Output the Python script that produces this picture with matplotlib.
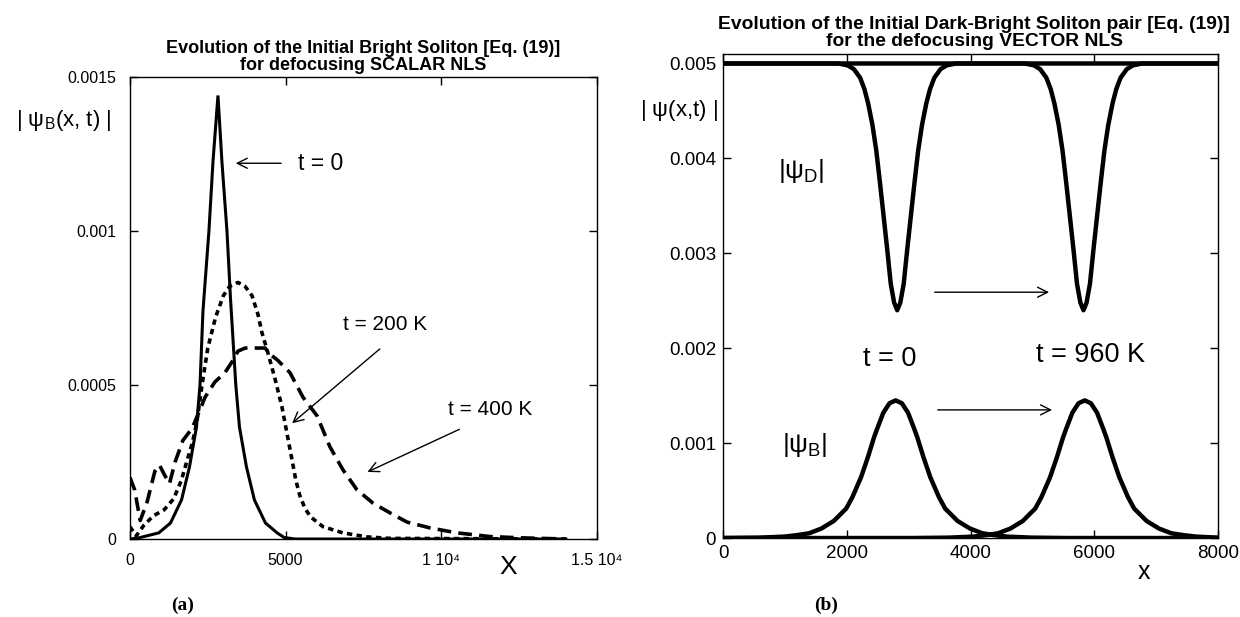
import matplotlib
matplotlib.use("Agg")
import matplotlib.pyplot as plt

plt.rcParams['font.family'] = ['Liberation Sans Narrow', 'Liberation Sans', 'DejaVu Sans']
plt.rcParams['mathtext.fontset'] = 'custom'
plt.rcParams['mathtext.rm'] = 'Liberation Sans'
plt.rcParams['mathtext.it'] = 'Liberation Sans:italic'

# ---- panel (a): scalar NLS, bright soliton spreading ----
a_x_t0 = [0, 257, 927, 1302, 1657, 1912, 2137, 2250, 2345, 2537, 2666, 2827,
          2955, 3116, 3230, 3400, 3517, 3742, 3997, 4352, 4727, 4950, 5300, 14000]
a_y_t0 = [0, 0.000003, 0.00002, 0.000052, 0.000127, 0.000234, 0.000364, 0.0005,
          0.00074, 0.001, 0.001224, 0.00144, 0.001224, 0.001, 0.00078, 0.0005,
          0.000364, 0.000234, 0.000127, 0.000052, 0.00002, 0.000005, 0, 0]

a_x_t200 = [0, 200, 450, 750, 1100, 1400, 1650, 1850, 2000, 2150, 2300, 2500,
            2750, 3000, 3200, 3470, 3700, 3920, 4110, 4240, 4430, 4660, 4880,
            5040, 5200, 5330, 5460, 5620, 5800, 6200, 6840, 7600, 8350, 14000]
a_y_t200 = [0.00004, 0.00001, 0.000045, 0.000075, 0.000095, 0.00013, 0.00019,
            0.00026, 0.00031, 0.00038, 0.00049, 0.00062, 0.00072, 0.00079,
            0.00082, 0.000833, 0.00082, 0.00079, 0.00073, 0.00067, 0.000605,
            0.00052, 0.00043, 0.000345, 0.00026, 0.00019, 0.00014, 0.0001,
            0.000072, 0.00004, 0.00002, 0.000007, 0.000002, 0]

a_x_t400 = [0, 150, 330, 550, 800, 950, 1100, 1270, 1450, 1700, 2000, 2250,
            2410, 2730, 3050, 3310, 3470, 3700, 4000, 4340, 4500, 4750, 5140,
            5560, 6010, 6420, 6840, 7290, 7800, 8350, 8900, 9640, 10500, 11560,
            12500, 14000]
a_y_t400 = [0.0002, 0.00016, 0.00006, 0.00012, 0.00022, 0.00024, 0.00021,
            0.00018, 0.00025, 0.00032, 0.00036, 0.00042, 0.00046, 0.00051,
            0.00054, 0.00058, 0.00061, 0.00062, 0.00062, 0.00062, 0.0006,
            0.00058, 0.00054, 0.00046, 0.0004, 0.0003, 0.000225, 0.00016,
            0.000117, 0.000085, 0.000055, 0.000036, 0.00002, 0.000008,
            0.000004, 0]

a_xticks = [0, 5000, 10000, 15000]
a_xticklabels = ['0', '5000', '1 10\u2074', '1.5 10\u2074']
a_yticks = [0, 0.0005, 0.001, 0.0015]
a_yticklabels = ['0', '0.0005', '0.001', '0.0015']

# ---- panel (b): vector NLS, dark-bright pair moving ----
b_x_dark0 = [0, 1865, 2015, 2115, 2215, 2285, 2345, 2415, 2477, 2535, 2597,
             2655, 2710, 2765, 2815, 2865, 2920, 2975, 3033, 3095, 3153, 3215,
             3285, 3345, 3415, 3515, 3615, 3765, 8000]
b_y_dark0 = [0.005, 0.005, 0.00498, 0.00494, 0.00485, 0.00473, 0.00458,
             0.00435, 0.00408, 0.00375, 0.00338, 0.00303, 0.00268, 0.00248,
             0.0024, 0.00248, 0.00268, 0.00303, 0.00338, 0.00375, 0.00408,
             0.00435, 0.00458, 0.00473, 0.00485, 0.00494, 0.00498, 0.005, 0.005]
b_x_dark960 = [0, 4875, 5025, 5125, 5225, 5295, 5355, 5425, 5487, 5545, 5607,
               5665, 5720, 5775, 5825, 5875, 5930, 5985, 6043, 6105, 6163, 6225,
               6295, 6355, 6425, 6525, 6625, 6775, 8000]
b_y_dark960 = b_y_dark0

b_x_bright0 = [0, 590, 990, 1190, 1390, 1590, 1790, 1990, 2090, 2230, 2340,
               2440, 2490, 2590, 2690, 2790, 2890, 2990, 3090, 3140, 3240, 3350,
               3490, 3590, 3790, 3990, 4190, 4390, 4590, 4990, 5590, 8000]
b_y_bright0 = [0, 0.000004, 0.000015, 0.00003, 0.00005, 0.0001, 0.00018,
               0.00031, 0.00043, 0.00064, 0.00085, 0.00106, 0.00115, 0.00132,
               0.00142, 0.00145, 0.00142, 0.00132, 0.00115, 0.00106, 0.00085,
               0.00064, 0.00043, 0.00031, 0.00018, 0.0001, 0.00005, 0.00003,
               0.000015, 0.000004, 0, 0]
b_x_bright960 = [0, 3045, 3645, 4045, 4245, 4445, 4645, 4845, 5045, 5145, 5285,
                 5395, 5495, 5545, 5645, 5745, 5845, 5945, 6045, 6145, 6195,
                 6295, 6405, 6545, 6645, 6845, 7045, 7245, 7445, 7645, 8000]
b_y_bright960 = [0, 0, 0.000004, 0.000015, 0.00003, 0.00005, 0.0001, 0.00018,
                 0.00031, 0.00043, 0.00064, 0.00085, 0.00106, 0.00115, 0.00132,
                 0.00142, 0.00145, 0.00142, 0.00132, 0.00115, 0.00106, 0.00085,
                 0.00064, 0.00043, 0.00031, 0.00018, 0.0001, 0.00005, 0.00003,
                 0.000015, 0.000004]

b_xticks = [0, 2000, 4000, 6000, 8000]
b_yticks = [0, 0.001, 0.002, 0.003, 0.004, 0.005]
b_yticklabels = ['0', '0.001', '0.002', '0.003', '0.004', '0.005']

fig = plt.figure(figsize=(12.4, 6.17), dpi=100)

# ---------- (a) ----------
ax1 = fig.add_axes([0.1048, 0.1264, 0.3766, 0.7488])
ax1.plot(a_x_t0, a_y_t0, color='black', lw=2.2, solid_joinstyle='miter')
ax1.plot(a_x_t200, a_y_t200, color='black', lw=2.6, dashes=(1.5, 1.2))
ax1.plot(a_x_t400, a_y_t400, color='black', lw=2.6, dashes=(3.8, 2.0))
ax1.set_xlim(0, 15000)
ax1.set_ylim(0, 0.0015)
ax1.set_xticks(a_xticks)
ax1.set_xticklabels(a_xticklabels)
ax1.set_yticks(a_yticks)
ax1.set_yticklabels(a_yticklabels)
ax1.tick_params(direction='in', top=True, right=True, length=6, width=1,
                labelsize=11.5, pad=10)
for s in ax1.spines.values():
    s.set_linewidth(1.0)

arr = dict(arrowstyle='->', lw=1.0, color='black', mutation_scale=18)
ax1.annotate('', xy=(3308, 0.00122), xytext=(4946, 0.00122), arrowprops=arr)
ax1.text(5396, 0.00122, 't = 0', fontsize=16.5, ha='left', va='center')
ax1.annotate('', xy=(5139, 0.00037), xytext=(8094, 0.000623), arrowprops=arr)
ax1.text(6841, 0.000695, 't = 200 K', fontsize=15, ha='left', va='center')
ax1.annotate('', xy=(7548, 0.000214), xytext=(10664, 0.00036), arrowprops=arr)
ax1.text(10214, 0.000419, 't = 400 K', fontsize=15, ha='left', va='center')

fig.text(0.2927, 0.9084,
         'Evolution of the Initial Bright Soliton [Eq. (19)]\nfor defocusing SCALAR NLS',
         ha='center', va='center', fontsize=13, fontweight='bold', linespacing=1.0)
fig.text(0.0129, 0.8055, r'| $\mathrm{\psi_B}$(x, t) |', fontsize=16,
         ha='left', va='center')
fig.text(0.4097, 0.081, 'X', fontsize=19, ha='center', va='center')
fig.text(0.1476, 0.0194, '(a)', fontsize=14, fontweight='bold',
         family='Liberation Serif', ha='center', va='center')

# ---------- (b) ----------
ax2 = fig.add_axes([0.5831, 0.128, 0.3992, 0.7845])
ax2.plot(b_x_dark0, b_y_dark0, color='black', lw=3.2)
ax2.plot(b_x_dark960, b_y_dark960, color='black', lw=3.2)
ax2.plot(b_x_bright0, b_y_bright0, color='black', lw=3.2)
ax2.plot(b_x_bright960, b_y_bright960, color='black', lw=3.2)
ax2.set_xlim(0, 8000)
ax2.set_ylim(0, 0.0051)
ax2.set_xticks(b_xticks)
ax2.set_yticks(b_yticks)
ax2.set_yticklabels(b_yticklabels)
ax2.tick_params(direction='in', top=True, right=True, length=6, width=1,
                labelsize=13.5, pad=5)
for s in ax2.spines.values():
    s.set_linewidth(1.0)

ax2.annotate('', xy=(5315, 0.00259), xytext=(3376, 0.00259), arrowprops=arr)
ax2.annotate('', xy=(5363, 0.00135), xytext=(3425, 0.00135), arrowprops=arr)
ax2.text(2698, 0.00189, 't = 0', fontsize=19.5, ha='center', va='center')
ax2.text(5937, 0.00193, 't = 960 K', fontsize=19.5, ha='center', va='center')
ax2.text(889, 0.00387, r'|$\mathrm{\psi_D}$|', fontsize=19, ha='left', va='center')
ax2.text(953, 0.00098, r'|$\mathrm{\psi_B}$|', fontsize=19, ha='left', va='center')

fig.text(0.7855, 0.9473,
         'Evolution of the Initial Dark-Bright Soliton pair [Eq. (19)]\nfor the defocusing VECTOR NLS',
         ha='center', va='center', fontsize=13.9, fontweight='bold', linespacing=1.0)
fig.text(0.516, 0.8217, r'| $\mathrm{\psi}$(x,t) |', fontsize=16, ha='left', va='center')
fig.text(0.9226, 0.073, 'x', fontsize=18, ha='center', va='center')
fig.text(0.666, 0.0194, '(b)', fontsize=14, fontweight='bold',
         family='Liberation Serif', ha='center', va='center')

fig.savefig('out.png', dpi=100)
